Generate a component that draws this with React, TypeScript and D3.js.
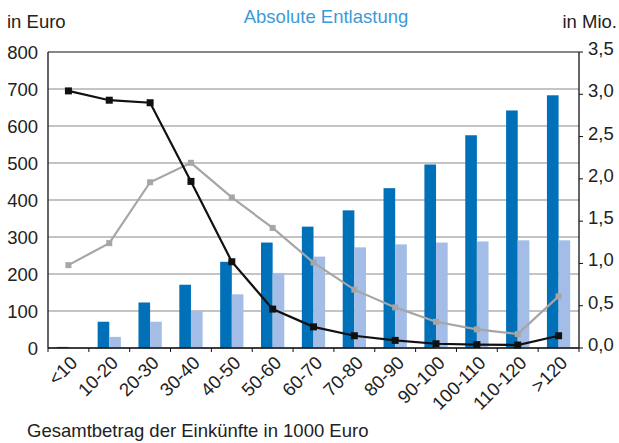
import React from 'react';
import * as d3 from 'd3';

const categories = ['<10', '10-20', '20-30', '30-40', '40-50', '50-60', '60-70', '70-80', '80-90', '90-100', '100-110', '110-120', '>120'];
// Euro values (left axis)
const darkBars = [3, 71, 123, 171, 233, 285, 328, 372, 432, 496, 575, 642, 683];
const lightBars = [0, 30, 71, 100, 145, 203, 247, 272, 280, 285, 288, 291, 291];
// Mio. values (right axis)
const blackLine = [3.04, 2.93, 2.9, 1.97, 1.02, 0.46, 0.25, 0.145, 0.09, 0.05, 0.04, 0.035, 0.145];
const grayLine = [0.98, 1.24, 1.96, 2.19, 1.78, 1.42, 1.01, 0.69, 0.48, 0.31, 0.22, 0.165, 0.61];
const leftTicks = [0, 100, 200, 300, 400, 500, 600, 700, 800];
const rightTicks = [0, 0.5, 1, 1.5, 2, 2.5, 3, 3.5];

const W = 619;
const H = 443;
const margin = { top: 52, right: 40, bottom: 95, left: 48 };
const font = 'Liberation Sans, Arial, sans-serif';
const fs = 18.5;

export default function App() {
  const x = d3
    .scaleBand()
    .domain(categories)
    .range([margin.left, W - margin.right])
    .padding(0);
  const yL = d3.scaleLinear().domain([0, 800]).range([H - margin.bottom, margin.top]);
  const yR = d3.scaleLinear().domain([0, 3.5]).range([H - margin.bottom, margin.top]);
  const bw = x.bandwidth() * 0.285;
  const cx = (c: string) => (x(c) as number) + x.bandwidth() / 2;

  const line = d3
    .line<number>()
    .x((_, i) => cx(categories[i]))
    .y(d => yR(d));

  const fmt = (v: number) => d3.format('.1f')(v).replace('.', ',');
  const x0 = margin.left;
  const x1 = W - margin.right;
  const yb = yL(0);

  return (
    <svg width={W} height={H} style={{ position: 'absolute', left: 0, top: 0 }} fontFamily={font}>
      <rect width={W} height={H} fill="#fff" />
      <text x={7} y={28} fontSize={fs} fill="#222">in Euro</text>
      <text x={326} y={23} fontSize={fs} fill="#3d9ad6" textAnchor="middle">Absolute Entlastung</text>
      <text x={617} y={28} fontSize={fs} fill="#222" textAnchor="end">in Mio.</text>

      {leftTicks.map(t => (
        <g key={t}>
          <line x1={x0} x2={x1} y1={yL(t)} y2={yL(t)} stroke={t === 800 ? '#111' : '#8a8a8a'} strokeWidth={1.2} />
          <text x={38} y={yL(t) + 6.5} fontSize={fs} textAnchor="end" fill="#222">{t}</text>
        </g>
      ))}

      {categories.map((c, i) => (
        <g key={c}>
          <rect x={cx(c) - bw} y={yL(darkBars[i])} width={bw} height={yb - yL(darkBars[i])} fill="#0070b8" />
          <rect x={cx(c)} y={yL(lightBars[i])} width={bw} height={yb - yL(lightBars[i])} fill="#a3bde6" />
        </g>
      ))}

      <path d={line(grayLine) as string} fill="none" stroke="#a6a6a6" strokeWidth={2.2} />
      {grayLine.map((v, i) => (
        <rect key={i} x={cx(categories[i]) - 3} y={yR(v) - 3} width={6} height={6} fill="#a6a6a6" />
      ))}
      <path d={line(blackLine) as string} fill="none" stroke="#111" strokeWidth={2.2} />
      {blackLine.map((v, i) => (
        <rect key={i} x={cx(categories[i]) - 3.5} y={yR(v) - 3.5} width={7} height={7} fill="#111" />
      ))}

      <line x1={x0} x2={x0} y1={margin.top} y2={yb} stroke="#111" strokeWidth={1.3} />
      <line x1={x1} x2={x1} y1={margin.top} y2={yb} stroke="#111" strokeWidth={1.3} />
      <line x1={x0} x2={x1} y1={yb} y2={yb} stroke="#111" strokeWidth={1.3} />
      {categories.map(c => (
        <line key={c} x1={x(c) as number} x2={x(c) as number} y1={yb} y2={yb + 4} stroke="#111" />
      ))}
      <line x1={x1} x2={x1} y1={yb} y2={yb + 4} stroke="#111" />

      {rightTicks.map(t => (
        <g key={t}>
          <line x1={x1} x2={x1 + 4} y1={yR(t)} y2={yR(t)} stroke="#111" />
          <text x={588} y={yR(t) + 3} fontSize={fs} fill="#222">{fmt(t)}</text>
        </g>
      ))}

      {categories.map(c => (
        <text
          key={c}
          transform={`translate(${cx(c) + 10},${yb + 16}) rotate(-45)`}
          fontSize={fs}
          textAnchor="end"
          fill="#222"
        >
          {c}
        </text>
      ))}

      <text x={27} y={437} fontSize={fs} fill="#222">Gesamtbetrag der Einkünfte in 1000 Euro</text>
    </svg>
  );
}
